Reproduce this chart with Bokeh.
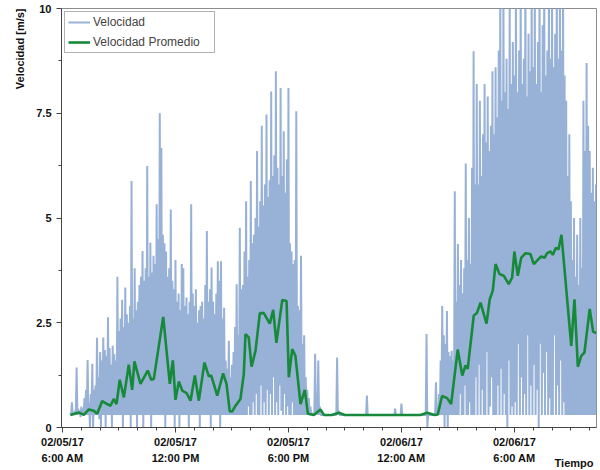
import numpy as np
from bokeh.plotting import figure
from bokeh.models import FixedTicker, Legend, LegendItem, Range1d, Title
from bokeh.embed import file_html
from bokeh.resources import INLINE

# ---------------- data (hours since 02/05/17 00:00) ----------------
# Velocidad: per 5-minute bin, peak (hi) and trough (lo) values, starting 06:25
vel_start_h = 6 + 25 / 60
vel_hi = [
    # 06:25-06:55
    0.35, 0.60, 0.35, 0.40, 1.43, 0.45, 0.40,
    # 07
    0.50, 0.45, 0.70, 0.90, 1.61, 0.60, 0.80, 1.52, 0.90, 1.00, 2.14, 1.20,
    # 08
    1.80, 1.60, 2.15, 1.85, 1.70, 2.63, 1.90, 1.50, 1.95, 1.75, 1.60, 3.60,
    # 09
    2.30, 2.60, 3.05, 2.40, 3.34, 2.70, 2.50, 2.90, 5.88, 2.60, 3.80, 2.80,
    # 10
    3.00, 3.40, 3.60, 4.21, 3.50, 3.80, 6.24, 3.60, 4.41, 3.70, 4.10, 3.90,
    # 11
    5.33, 4.50, 7.50, 6.67, 4.60, 4.40, 4.20, 3.60, 3.80, 5.20, 3.50, 3.30,
    # 12
    4.00, 3.00, 3.20, 2.80, 3.90, 3.80, 2.90, 3.10, 2.70, 3.00, 5.33, 3.20,
    # 13
    2.90, 3.30, 2.50, 2.80, 2.90, 3.00, 2.60, 3.40, 4.69, 3.00, 3.30, 3.82,
    # 14
    3.00, 2.70, 3.20, 3.97, 3.50, 3.97, 2.60, 2.86, 1.60, 1.40, 2.07, 1.20,
    # 15
    1.50, 1.80, 2.40, 3.42, 2.20, 4.77, 3.30, 3.40, 4.20, 5.40, 3.60, 4.00,
    # 16
    5.88, 4.40, 4.60, 5.00, 6.60, 4.80, 5.40, 7.20, 5.30, 5.80, 7.47, 5.50,
    # 17
    5.90, 8.02, 6.00, 6.50, 8.50, 6.20, 5.80, 8.10, 6.00, 7.07, 5.60, 6.40,
    # 18
    8.10, 4.40, 4.20, 3.90, 4.00, 7.55, 2.90, 2.80, 4.10, 2.00, 2.20, 1.20,
    # 19
    0.90, 0.70, 0.50, 0.35, 0.30, 1.76, 0.40, 1.60, 0.50, 0.30, 0.30, 0.30,
    # 20
    0.30, 0.30, 0.30, 0.30, 0.30, 0.30, 0.30, 1.67, 0.40, 0.30, 0.30, 0.30,
    # 21
    0.30, 0.30, 0.30, 0.30, 0.30, 0.30, 0.30, 0.30, 0.30, 0.30, 0.30, 0.30,
    # 22
    0.30, 0.30, 0.76, 0.30, 0.30, 0.30, 0.30, 0.30, 0.30, 0.30, 0.30, 0.30,
    # 23
    0.30, 0.30, 0.30, 0.30, 0.30, 0.30, 0.30, 0.30, 0.45, 0.30, 0.30, 0.30,
    # 00 (02/06)
    0.57, 0.30, 0.30, 0.30, 0.30, 0.30, 0.30, 0.30, 0.30, 0.30, 0.30, 0.30,
    # 01
    0.30, 0.30, 0.30, 0.30, 2.23, 0.30, 0.30, 0.30, 0.30, 0.30, 1.08, 0.35,
    # 02
    0.80, 1.60, 2.90, 2.20, 2.00, 2.78, 1.80, 1.70, 1.83, 1.60, 5.64, 3.00,
    # 03
    4.38, 3.40, 4.00, 3.20, 3.80, 6.30, 4.00, 5.00, 3.90, 6.20, 8.98, 5.80,
    # 04
    8.20, 5.80, 7.80, 6.00, 7.00, 8.20, 6.80, 7.90, 6.60, 7.20, 8.50, 7.00,
    # 05
    8.60, 7.40, 9.00, 10.6, 7.80, 10.8, 8.00, 8.80, 7.60, 10.5, 8.20, 9.20,
    # 06
    8.40, 11.0, 8.00, 9.00, 11.0, 8.20, 8.80, 11.5, 7.90, 9.40, 8.50, 11.0,
    # 07
    8.60, 10.8, 8.20, 9.20, 11.0, 8.00, 9.60, 11.2, 8.40, 9.00, 10.6, 8.80,
    # 08
    11.0, 8.60, 9.40, 11.2, 8.80, 10.5, 9.00, 11.0, 8.40, 7.80, 6.00, 7.00,
    # 09
    5.40, 4.00, 5.00, 3.60, 4.60, 3.40, 5.00, 3.80, 7.80, 6.60, 8.70, 7.20,
    # 10:00-10:20
    6.60, 5.60, 6.20, 5.40, 5.80,
]
vel_lo = [
    0.30, 0.30, 0.30, 0.30, 0.30, 0.30, 0.25,
    0.30, 0.30, 0.30, 0.30, 0.30, 0.00, 0.30, 0.00, 0.30, 0.30, 0.30, 0.20,
    0.00, 0.30, 0.30, 0.00, 0.30, 0.30, 0.30, 0.00, 0.30, 0.30, 0.30, 0.30,
    0.30, 0.30, 0.00, 0.30, 0.30, 0.30, 0.30, 0.00, 0.30, 0.30, 0.30, 0.00,
    0.30, 0.30, 0.30, 0.00, 0.30, 0.30, 0.30, 0.30, 0.00, 0.30, 0.30, 0.30,
    0.30, 0.30, 0.30, 0.30, 0.30, 0.00, 0.30, 0.30, 0.30, 0.30, 0.30, 0.00,
    0.30, 0.30, 0.00, 0.30, 0.30, 0.30, 0.30, 0.30, 0.00, 0.30, 0.30, 0.30,
    0.30, 0.30, 0.30, 0.00, 0.30, 0.30, 0.30, 0.30, 0.30, 0.30, 0.00, 0.30,
    0.30, 0.30, 0.30, 0.30, 0.00, 0.30, 0.30, 0.30, 0.30, 0.30, 0.30, 0.30,
    0.30, 0.30, 0.30, 0.30, 0.30, 0.30, 0.30, 0.30, 0.30, 0.30, 0.50, 0.30,
    0.30, 0.60, 0.30, 0.80, 0.30, 0.30, 1.00, 0.30, 0.60, 0.30, 0.90, 0.30,
    0.80, 0.30, 1.20, 0.30, 0.60, 0.30, 1.00, 0.40, 0.30, 0.80, 0.30, 0.50,
    0.30, 0.30, 0.60, 0.30, 0.30, 0.30, 0.30, 0.30, 0.30, 0.30, 0.30, 0.30,
    0.30, 0.30, 0.30, 0.30, 0.30, 0.30, 0.30, 0.30, 0.30, 0.30, 0.30, 0.30,
    0.30, 0.30, 0.30, 0.30, 0.30, 0.30, 0.30, 0.30, 0.30, 0.30, 0.30, 0.30,
    0.30, 0.30, 0.30, 0.30, 0.30, 0.30, 0.30, 0.30, 0.30, 0.30, 0.30, 0.30,
    0.30, 0.30, 0.30, 0.30, 0.30, 0.30, 0.30, 0.30, 0.30, 0.30, 0.30, 0.30,
    0.30, 0.30, 0.30, 0.30, 0.30, 0.30, 0.30, 0.30, 0.30, 0.30, 0.30, 0.30,
    0.30, 0.30, 0.30, 0.30, 0.30, 0.30, 0.30, 0.30, 0.30, 0.30, 0.30, 0.30,
    0.30, 0.30, 0.30, 0.30, 0.00, 0.30, 0.30, 0.30, 0.30, 0.30, 0.30, 0.30,
    0.30, 0.30, 0.30, 0.00, 0.30, 0.00, 0.30, 0.30, 0.30, 0.30, 0.30, 0.30,
    0.30, 0.80, 0.30, 0.30, 1.00, 0.30, 0.30, 0.60, 0.30, 0.30, 0.30, 1.20,
    0.30, 1.50, 0.30, 0.90, 0.30, 0.30, 1.80, 0.30, 0.50, 1.20, 0.30, 0.30,
    0.30, 1.00, 0.30, 1.40, 0.30, 0.80, 0.30, 0.00, 1.60, 0.30, 0.50, 0.30,
    0.60, 0.30, 2.00, 0.30, 1.20, 0.30, 0.80, 0.30, 2.20, 0.30, 1.00, 0.30,
    1.50, 0.30, 0.90, 0.00, 2.00, 0.30, 1.30, 0.30, 1.80, 0.30, 0.70, 0.30,
    0.30, 2.20, 0.30, 1.00, 0.30, 1.60, 0.30, 0.60, 0.30, 0.30, 0.30, 0.30,
    0.30, 0.30, 0.30, 0.30, 0.30, 0.30, 0.30, 0.30, 0.30, 0.30, 0.30, 0.30,
    0.30, 0.30, 0.30, 0.30, 0.30,
]

# Velocidad Promedio
prom_t = [6.42, 6.87, 7.13, 7.40, 7.66, 7.84, 8.11, 8.37, 8.55, 8.72, 8.87, 9.04,
          9.26, 9.52, 9.70, 9.82, 10.14, 10.53, 10.71, 10.85, 11.35, 11.70, 11.86,
          12.00, 12.18, 12.36, 12.59, 12.80, 13.03, 13.24, 13.54, 13.77, 13.90,
          14.22, 14.53, 14.71, 14.88, 15.01, 15.19, 15.45, 15.63, 15.72, 15.89,
          16.04, 16.25, 16.48, 16.69, 17.01, 17.19, 17.36, 17.67, 17.90, 18.02,
          18.20, 18.37, 18.64, 18.87, 19.03, 19.35, 19.70, 19.88, 20.30, 20.67,
          21.00, 25.00, 25.37, 25.76, 25.93, 26.16, 26.43, 26.64, 26.99, 27.23,
          27.40, 27.52, 27.84, 28.02, 28.20, 28.52, 28.69, 28.85, 29.00, 29.21,
          29.44, 29.70, 29.88, 30.00, 30.18, 30.36, 30.59, 30.85, 31.03, 31.24,
          31.42, 31.60, 31.74, 31.92, 32.04, 32.20, 32.34, 32.50, 33.02, 33.19,
          33.37, 33.55, 33.72, 34.00, 34.18, 34.34]
prom_v = [0.30, 0.36, 0.30, 0.43, 0.40, 0.33, 0.63, 0.56, 0.52, 0.68, 0.56, 1.14,
          0.72, 1.50, 0.90, 1.58, 1.04, 1.36, 1.14, 1.16, 2.64, 1.04, 1.60,
          0.66, 1.10, 0.88, 0.82, 0.64, 1.24, 0.64, 1.55, 1.22, 1.24,
          0.76, 1.29, 1.04, 0.39, 0.38, 0.52, 0.68, 1.28, 2.23, 2.15,
          1.45, 1.83, 2.73, 2.73, 2.48, 2.81, 2.02, 3.04, 3.02, 1.20,
          1.87, 1.71, 0.56, 0.90, 0.33, 0.30, 0.43, 0.30, 0.30, 0.35,
          0.30, 0.30, 0.35, 0.30, 0.31, 0.75, 0.70, 0.56, 1.86, 1.24,
          1.48, 1.40, 2.67, 2.74, 2.98, 2.48, 3.06, 3.26, 3.90, 3.66,
          3.62, 3.42, 3.58, 4.20, 3.62, 4.05, 4.16, 4.14, 3.90, 4.00,
          4.08, 4.05, 4.16, 4.20, 4.12, 4.29, 4.25, 4.60, 1.95, 3.06,
          1.45, 1.71, 1.79, 2.83, 2.29, 2.25]

tick_hours = [6, 12, 18, 24, 30]
tick_labels = ["02/05/17\n6:00 AM", "02/05/17\n12:00 PM", "02/05/17\n6:00 PM",
               "02/06/17\n12:00 AM", "02/06/17\n6:00 AM"]
y_ticks = [0, 2.5, 5, 7.5, 10]
y_tick_labels = ["0", "2.5", "5", "7.5", "10"]

# ---------------- build series ----------------
vel = np.column_stack([vel_hi, vel_lo]).ravel()
t_vel = vel_start_h + np.arange(len(vel)) * (2.5 / 60)

FONT = "Liberation Sans"
W, H = 600, 470
BL, BR, BT, BB = 61, 4, 8, 43

p = figure(width=W, height=H, x_range=Range1d(5.947, 34.36), y_range=Range1d(0, 10),
           output_backend="svg", toolbar_location=None,
           min_border_left=BL, min_border_right=BR, min_border_top=BT, min_border_bottom=BB)
p.xgrid.visible = False
p.ygrid.visible = False
p.outline_line_color = "#8c8c8c"
p.outline_line_width = 1
p.background_fill_color = "white"

r_vel = p.line(t_vel, vel, line_color="#86a3cf", line_alpha=0.85, line_width=2.0)
r_prom = p.line(prom_t, prom_v, line_color="#168a3a", line_width=2.6)

xa = p.xaxis[0]
xa.ticker = FixedTicker(ticks=tick_hours, minor_ticks=list(range(6, 35)))
xa.major_label_overrides = dict(zip(tick_hours, tick_labels))
ya = p.yaxis[0]
ya.ticker = FixedTicker(ticks=y_ticks, minor_ticks=[1.25, 3.75, 6.25, 8.75])
ya.major_label_overrides = dict(zip(y_ticks, y_tick_labels))
for ax in (xa, ya):
    ax.axis_line_color = "#444444"
    ax.major_tick_line_color = "#444444"
    ax.minor_tick_line_color = "#444444"
    ax.major_tick_out = 5
    ax.major_tick_in = 0
    ax.minor_tick_out = 3
    ax.minor_tick_in = 0
    ax.major_label_text_font = FONT
    ax.major_label_text_font_style = "bold"
    ax.major_label_text_font_size = "11px"
    ax.major_label_text_color = "#111111"
xa.major_label_standoff = 3
xa.major_label_text_line_height = 1.35
ya.major_label_standoff = 5

legend = Legend(items=[LegendItem(label="Velocidad", renderers=[r_vel]),
                       LegendItem(label="Velocidad Promedio", renderers=[r_prom])],
                location="top_left", margin=3, padding=3, spacing=6,
                glyph_width=22, glyph_height=14, label_height=14, label_width=118,
                label_standoff=3, label_text_font=FONT, label_text_font_size="12px",
                label_text_color="#444444", border_line_color="#666666",
                border_line_width=1, background_fill_color="white", background_fill_alpha=1)
p.add_layout(legend)

ytitle = Title(text="Velocidad [m/s]", align="right", text_font=FONT,
               text_font_style="bold", text_font_size="11px", text_color="#111111",
               standoff=16)
p.add_layout(ytitle, "left")

xtitle = Title(text="Tiempo", align="right", vertical_align="top", offset=3,
               standoff=-19, text_font=FONT, text_font_style="bold",
               text_font_size="11px", text_color="#111111")
p.add_layout(xtitle, "below")

open("out.html", "w").write(file_html(p, INLINE))
